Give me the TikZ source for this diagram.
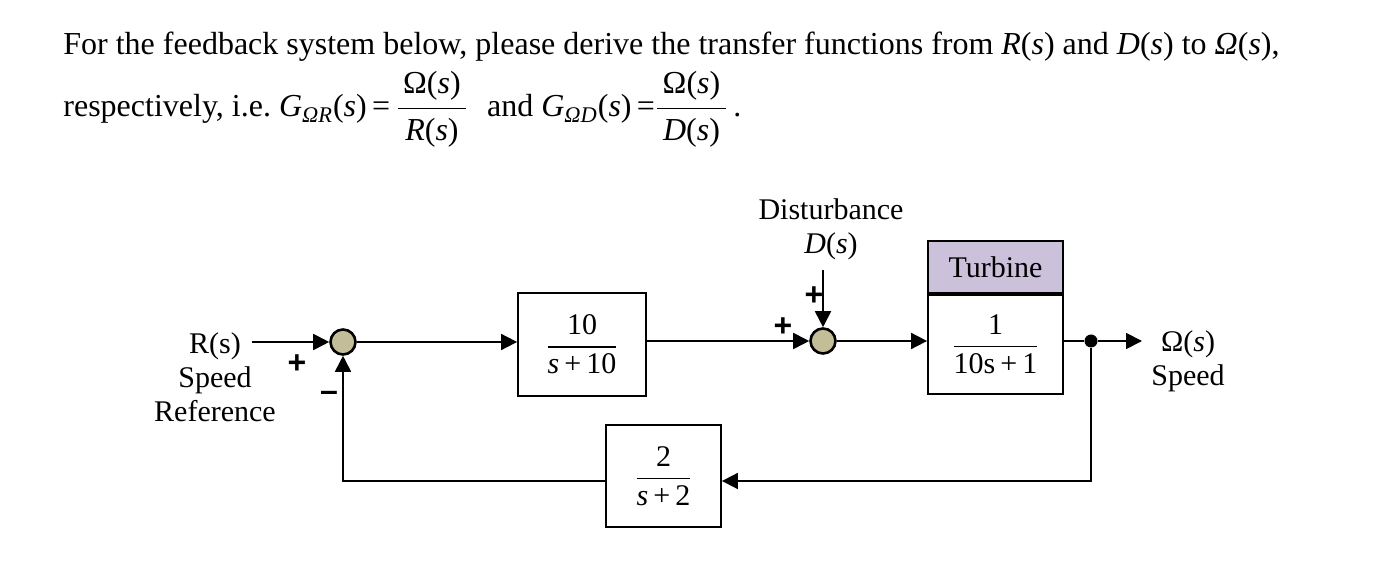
\documentclass[tikz,border=0pt]{standalone}
\usepackage{amsmath}
\usepackage{fontspec}
\setmainfont{Liberation Serif}
\newfontfamily\signfont{Liberation Sans}
\usetikzlibrary{positioning,arrows.meta}
\definecolor{sumfill}{RGB}{196,190,152}
\definecolor{turbfill}{RGB}{204,193,218}
\newcommand{\blockfrac}[2]{$\dfrac{\text{#1}}{\text{#2}}$}

\begin{document}
\begin{tikzpicture}[x=0.5pt,y=-0.5pt,
    font=\fontsize{15}{17}\selectfont,
    conn/.style={line width=0.9pt},
    arr/.style={conn,-{Triangle[length=8pt,width=8pt]}},
    block/.style={draw,line width=0.9pt,inner sep=0pt},
    sum/.style={circle,draw,fill=sumfill,line width=1.3pt,minimum size=12.5pt,inner sep=0pt},
    sign/.style={font=\fontsize{16}{16}\selectfont\signfont\bfseries}]
    \useasboundingbox (0,0) rectangle (1390,576);

    % Problem statement
    \node[anchor=base west,inner sep=0pt,font=\fontsize{16}{18}\selectfont] (line1) at (63,55)
        {For the feedback system below, please derive the transfer functions from \textit{R}(\textit{s}) and \textit{D}(\textit{s}) to \textit{Ω}(\textit{s}),};
    \node[anchor=base west,inner sep=0pt,font=\fontsize{16}{18}\selectfont] (line2) at (63,117)
        {respectively, i.e.\ \textit{G}$_{\text{\itshape ΩR}}$(\textit{s})\,=\,$\dfrac{\text{\,Ω(\textit{s})\,}}{\text{\,\textit{R}(\textit{s})\,}}$\,\, and \textit{G}$_{\text{\itshape ΩD}}$(\textit{s})\,=$\dfrac{\text{\,Ω(\textit{s})\,}}{\text{\,\textit{D}(\textit{s})\,}}$\,.};

    % Blocks and junctions
    \node[sum] (s1) at (343,342) {};
    \node[block,minimum width=64pt,minimum height=51.5pt] (g1) at (582,344.5)
        {\blockfrac{10}{\textit{s}\,+\,10}};
    \node[sum] (s2) at (823,341) {};
    \node[block,fill=turbfill,minimum width=67.5pt,minimum height=26pt] (turb) at (995.5,267) {Turbine};
    \node[block,minimum width=67.5pt,minimum height=49.5pt,below=0pt of turb] (g2)
        {\blockfrac{1}{10s\,+\,1}};
    \node[block,minimum width=57.5pt,minimum height=51pt] (h) at (663.5,476)
        {\blockfrac{2}{\textit{s}\,+\,2}};
    \node[circle,fill,inner sep=0pt,minimum size=6.5pt] (tap) at (1091,341) {};

    % Labels
    \node[align=center] (rlab) at (215,377) {R(s)\\Speed\\Reference};
    \node[align=center] (dlab) at (831,229) {Disturbance\\\textit{D}(\textit{s})};
    \node[align=center] (wlab) at (1188,361) {Ω(\textit{s})\\Speed};
    \coordinate (rin) at (252,342);
    \coordinate (din) at (826,270);
    \coordinate (wout) at (1142,341);
    \coordinate (fb) at (1091,481);

    % Signs
    \node[sign] (p1) at (297,364) {+};
    \node[sign] (m1) at (329,396) {–};
    \node[sign] (p2) at (783,327) {+};
    \node[sign] (p3) at (814,296) {+};

    % Connections
    \draw[arr] (rin) -- (s1.west);
    \draw[arr] (s1.east) -- (s1.east -| g1.west);
    \draw[arr] (g1.east |- s2) -- (s2.west);
    \draw[arr] (s2.north |- din) -- (s2.north);
    \draw[arr] (s2.east) -- (s2.east -| g2.west);
    \draw[conn] (g2.east |- tap) -- (tap);
    \draw[arr] (tap) -- (wout);
    \draw[arr] (tap) -- (fb) -- (fb -| h.east);
    \draw[arr] (fb -| h.west) -| (s1.south);
\end{tikzpicture}
\end{document}
